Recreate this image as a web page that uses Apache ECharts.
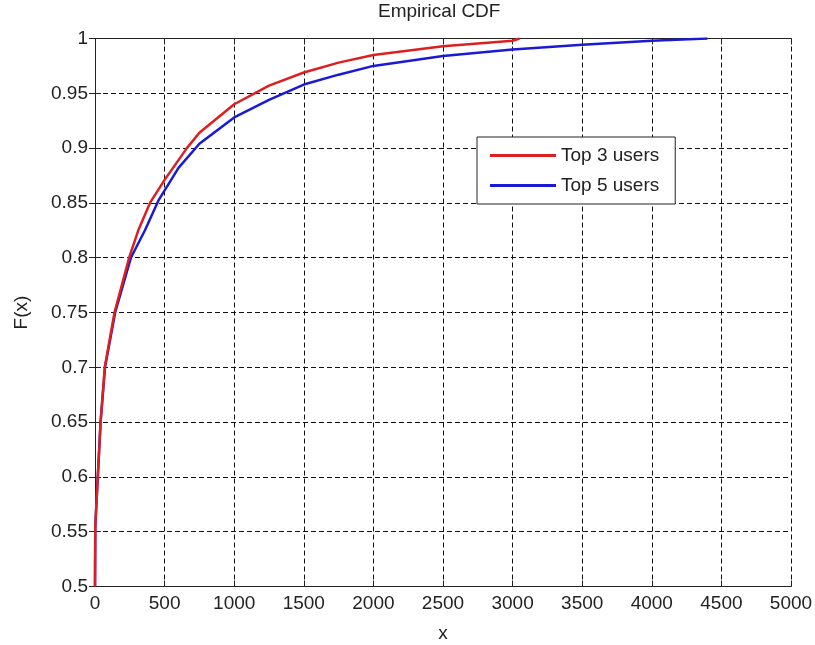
<!DOCTYPE html>
<html>
<head>
<meta charset="utf-8">
<script src="https://cdn.jsdelivr.net/npm/echarts@6/dist/echarts.min.js"></script>
<style>
  html, body { margin: 0; padding: 0; background: #fff; }
  #chart { width: 815px; height: 645px; }
</style>
</head>
<body>
<div id="chart"></div>
<script>
// values (x, F(x))
var top3X = [0, 2, 20, 40, 70, 140, 245, 311, 395, 500, 660, 750, 1000, 1250, 1500, 1750, 2000, 2500, 3000, 3050];
var top3F = [0.5, 0.555, 0.6, 0.65, 0.7, 0.75, 0.8, 0.825, 0.85, 0.871, 0.9, 0.914, 0.94, 0.957, 0.969, 0.978, 0.985, 0.993, 0.998, 1];

var top5X = [0, 2, 20, 40, 72, 145, 258, 359, 455, 600, 750, 1000, 1250, 1500, 1750, 2000, 2500, 3000, 3500, 4000, 4400];
var top5F = [0.5, 0.555, 0.6, 0.65, 0.7, 0.75, 0.8, 0.825, 0.852, 0.882, 0.904, 0.928, 0.944, 0.958, 0.967, 0.975, 0.984, 0.990, 0.9943, 0.998, 1];

var seriesNames = ['Top 3 users', 'Top 5 users'];

var FONT = '"Liberation Sans", Arial, sans-serif';
var TXT = '#222';

function pairs(xs, ys) {
    var out = [];
    for (var i = 0; i < xs.length; i++) {
        out.push([xs[i], ys[i]]);
    }
    return out;
}

var gridLine = {
    show: true,
    lineStyle: { color: '#111', width: 1, type: [5, 3] }
};
var boxLine = { show: true, lineStyle: { color: '#222', width: 1 } };
var innerTick = { show: true, inside: true, length: 6, lineStyle: { color: '#222' } };

var chart = echarts.init(document.getElementById('chart'));
chart.setOption({
    animation: false,
    backgroundColor: '#fff',
    title: {
        text: 'Empirical CDF',
        left: 378,
        top: 2,
        padding: 0,
        textStyle: { fontFamily: FONT, fontSize: 19, fontWeight: 'normal', color: TXT }
    },
    grid: {
        left: 95,
        top: 38.5,
        right: 24,
        bottom: 58.5,
        outerBoundsMode: 'none'
    },
    legend: {
        orient: 'vertical',
        left: 477,
        top: 137,
        padding: [9, 16, 9, 13],
        itemWidth: 66,
        itemHeight: 3,
        itemGap: 11,
        icon: 'rect',
        backgroundColor: '#fff',
        borderColor: '#222',
        borderWidth: 1,
        borderRadius: 0,
        textStyle: { fontFamily: FONT, fontSize: 19, color: TXT },
        data: seriesNames
    },
    xAxis: [{
        type: 'value',
        min: 0,
        max: 5000,
        interval: 500,
        name: 'x',
        nameLocation: 'middle',
        nameGap: 38,
        nameTextStyle: { fontFamily: FONT, fontSize: 19, color: TXT },
        axisLine: boxLine,
        axisTick: innerTick,
        axisLabel: {
            fontFamily: FONT, fontSize: 19, color: TXT, margin: 8,
            formatter: function (v) { return String(v); }
        },
        splitLine: gridLine
    }, {
        type: 'value',
        position: 'top',
        min: 0,
        max: 5000,
        interval: 500,
        axisLine: boxLine,
        axisTick: innerTick,
        axisLabel: { show: false },
        splitLine: { show: false }
    }],
    yAxis: [{
        type: 'value',
        min: 0.5,
        max: 1,
        interval: 0.05,
        name: 'F(x)',
        nameLocation: 'middle',
        nameGap: 64,
        nameTextStyle: { fontFamily: FONT, fontSize: 19, color: TXT },
        axisLine: boxLine,
        axisTick: innerTick,
        axisLabel: { fontFamily: FONT, fontSize: 19, color: TXT, margin: 7 },
        splitLine: gridLine
    }, {
        type: 'value',
        position: 'right',
        min: 0.5,
        max: 1,
        interval: 0.05,
        axisLine: boxLine,
        axisTick: innerTick,
        axisLabel: { show: false },
        splitLine: { show: false }
    }],
    series: [{
        name: seriesNames[0],
        type: 'line',
        symbol: 'none',
        z: 3,
        itemStyle: { color: '#dd1f1f' },
        lineStyle: { color: '#dd1f1f', width: 2.5, join: 'round' },
        data: pairs(top3X, top3F)
    }, {
        name: seriesNames[1],
        type: 'line',
        symbol: 'none',
        z: 2,
        itemStyle: { color: '#1a1ad6' },
        lineStyle: { color: '#1a1ad6', width: 2.5, join: 'round' },
        data: pairs(top5X, top5F)
    }]
});
</script>
</body>
</html>
